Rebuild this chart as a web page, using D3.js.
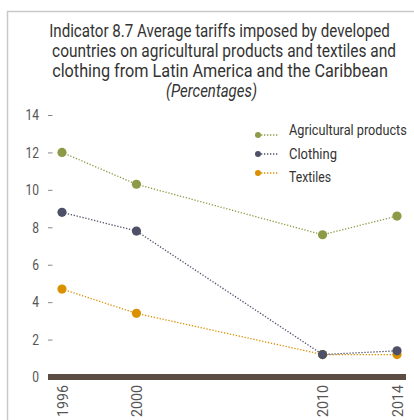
<!DOCTYPE html>
<html><head><meta charset="utf-8">
<script src="https://cdn.jsdelivr.net/npm/d3@7/dist/d3.min.js"></script>
<style>
html,body{margin:0;padding:0;background:#fff;}
svg{display:block;}
text{font-family:Roboto,"Noto Sans",sans-serif;}
</style></head>
<body><div id="chart"></div>
<script>
const years = [1996, 2000, 2010, 2014];
const seriesNames = ["Agricultural products", "Clothing", "Textiles"];
const agricultural = [12.0, 10.3, 7.6, 8.6];
const clothing = [8.8, 7.8, 1.2, 1.4];
const textiles = [4.7, 3.4, 1.2, 1.2];
const yTicks = [0, 2, 4, 6, 8, 10, 12, 14];
const titleLines = ["Indicator 8.7 Average tariffs imposed by developed",
  "countries on agricultural products and textiles and",
  "clothing from Latin America and the Caribbean"];
const subtitle = "(Percentages)";
const colors = ["#8c9b46", "#4e5068", "#d99100"];

const W = 414, H = 420;
const svg = d3.select("#chart").append("svg").attr("width", W).attr("height", H);

// place text squeezed horizontally to a target width
function squeezed(parent, str, cx, cy, targetW, size, anchor, extra){
  const g = parent.append("g");
  const t = g.append("text").attr("x",0).attr("y",0).style("font-size",size+"px")
    .attr("text-anchor",anchor).text(str);
  if (extra) extra(t);
  const L = t.node().getComputedTextLength();
  const s = targetW / L;
  g.attr("transform",`translate(${cx},${cy}) scale(${s},1)`);
  return t;
}

// frame
svg.append("path").attr("d", `M7.5,${H} V11.5 H${W}`).attr("fill","none")
  .attr("stroke","#c9c9c9").attr("stroke-width",1.5);

// title
const titleW = [341, 344, 336];
const titleX = [219.5, 224, 220];
titleLines.forEach((t,i)=> squeezed(svg, t, titleX[i], 37+i*20, titleW[i], 18.5, "middle",
  s=>s.attr("fill","#333")));
squeezed(svg, subtitle, 211.5, 97, 91, 18.5, "middle", s=>s.attr("fill","#333").style("font-style","italic"));

const x = d3.scaleLinear().domain([1996, 2014]).range([62, 397]);
const y = d3.scaleLinear().domain([0, 14]).range([377, 115]);

// y axis
const yAxis = d3.axisLeft(y).tickValues(yTicks).tickSize(0).tickPadding(9).tickFormat(d3.format("d"));
const ya = svg.append("g").attr("transform","translate(48,0)").call(yAxis);
ya.select(".domain").remove();
ya.selectAll("text").attr("fill","#555").style("font-size","15px").attr("font-family",null)
  .each(function(){
    const L = this.getComputedTextLength();
    d3.select(this).attr("textLength", L*0.8).attr("lengthAdjust","spacingAndGlyphs");
  });
ya.selectAll(".tick").filter(d=>d!==0).append("line")
  .attr("x1",0).attr("x2",4.5).attr("stroke","#888").attr("stroke-width",1);

// baseline bar
svg.append("rect").attr("x",48).attr("width",406-48).attr("y",y(0)-3).attr("height",6).attr("fill","#5c4d44");

// x axis labels
const xa = svg.append("g").attr("transform",`translate(0,${y(0)+3})`)
  .call(d3.axisBottom(x).tickValues(years).tickSize(0).tickFormat(d3.format("d")));
xa.select(".domain").remove();
xa.selectAll("text").attr("fill","#555").style("font-size","15px").attr("font-family",null)
  .attr("transform","rotate(-90)").attr("text-anchor","end")
  .attr("x",-5).attr("y",0).attr("dy","0.35em")
  .attr("textLength",32).attr("lengthAdjust","spacingAndGlyphs");

// series
const data = [agricultural, clothing, textiles];
const line = d3.line().x((d,i)=>x(years[i])).y(d=>y(d));
const drawOrder = [0, 2, 1];
drawOrder.forEach(k=>{
  svg.append("path").datum(data[k]).attr("d", line).attr("fill","none")
    .attr("stroke",colors[k]).attr("stroke-width",1.3).attr("stroke-dasharray","1.3,1.7");
});
drawOrder.forEach(k=>{
  svg.selectAll(null).data(data[k]).enter().append("circle")
    .attr("cx",(d,i)=>x(years[i])).attr("cy",d=>y(d)).attr("r",4.6).attr("fill",colors[k]);
});

// legend
const legDotY = [135, 154, 173];
const legTextY = [135, 159, 182];
const legW = [118, 48, 42];
seriesNames.forEach((n,k)=>{
  const g = svg.append("g").attr("transform",`translate(258,0)`);
  g.append("line").attr("x1",0).attr("x2",20).attr("y1",legDotY[k]).attr("y2",legDotY[k]).attr("stroke",colors[k])
    .attr("stroke-width",1.3).attr("stroke-dasharray","1.3,1.7");
  g.append("circle").attr("cx",0).attr("cy",legDotY[k]).attr("r",3).attr("fill",colors[k]);
  squeezed(svg, n, 289, legTextY[k], legW[k], 15, "start", s=>s.attr("fill","#333"));
});
</script></body></html>
